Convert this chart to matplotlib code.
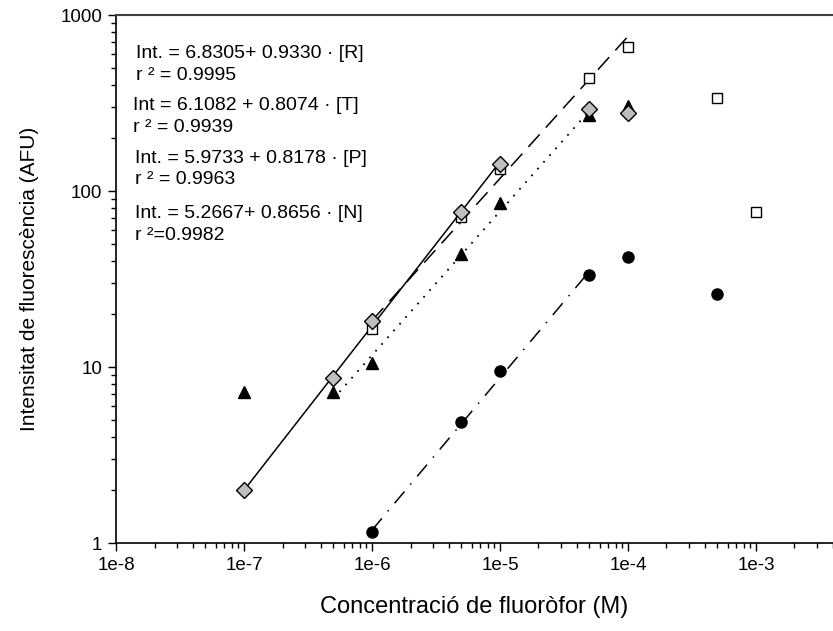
import numpy as np
import matplotlib
matplotlib.use("Agg")
import matplotlib.pyplot as plt
from matplotlib.ticker import FixedLocator, FixedFormatter, LogLocator, NullFormatter

plt.rcParams['font.family'] = ['Liberation Sans', 'DejaVu Sans']

# concentracions (M) i intensitats mesurades (AFU)
conc_R = [1e-7, 5e-7, 1e-6, 5e-6, 1e-5, 5e-5, 1e-4]
int_R = [2.0, 8.7, 18.2, 76, 142, 291, 276]

conc_T = [1e-6, 5e-6, 1e-5, 5e-5, 1e-4, 5e-4, 1e-3]
int_T = [16.4, 71, 134, 440, 660, 338, 76]

conc_P = [1e-7, 5e-7, 1e-6, 5e-6, 1e-5, 5e-5, 1e-4]
int_P = [7.2, 7.2, 10.6, 44, 86, 271, 304]

conc_N = [1e-6, 5e-6, 1e-5, 5e-5, 1e-4, 5e-4]
int_N = [1.15, 4.9, 9.5, 33.4, 42.3, 26]

# rectes de calibratge: log(Int) = a + b*log([C]), interval lineal
fit_R = (6.8305, 0.9330, 1e-7, 1e-5)
fit_T = (6.1082, 0.8074, 1e-6, 1e-4)
fit_P = (5.9733, 0.8178, 5e-7, 5e-5)
fit_N = (5.2667, 0.8656, 1e-6, 5e-5)

x_ticks = [1e-8, 1e-7, 1e-6, 1e-5, 1e-4, 1e-3]
x_tick_labels = ["1e-8", "1e-7", "1e-6", "1e-5", "1e-4", "1e-3"]
y_ticks = [1, 10, 100, 1000]
y_tick_labels = ["1", "10", "100", "1000"]


def fit_line(a, b, c0, c1):
    c = np.array([c0, c1])
    return c, 10 ** (a + b * np.log10(c))


fig = plt.figure(figsize=(8.33, 6.31), dpi=100)
ax = fig.add_axes([116 / 833, 1 - 543 / 631, 1 - 116 / 833, (543 - 15) / 631])
ax.set_xscale('log')
ax.set_yscale('log')

x, y = fit_line(*fit_R)
ax.plot(x, y, color='black', lw=1.1, ls='-')
x, y = fit_line(*fit_T)
ax.plot(x, y, color='black', lw=1.1, ls=(0, (11, 6)))
x, y = fit_line(*fit_P)
ax.plot(x, y, color='black', lw=1.3, ls=(0, (1, 4)))
x, y = fit_line(*fit_N)
ax.plot(x, y, color='black', lw=1.1, ls=(0, (10, 6, 1, 6)))

ax.plot(conc_T, int_T, ls='none', marker='s', ms=7.2, mfc='white', mec='black', mew=1.0)
ax.plot(conc_P, int_P, ls='none', marker='^', ms=8.5, mfc='black', mec='black')
ax.plot(conc_N, int_N, ls='none', marker='o', ms=8, mfc='black', mec='black')
ax.plot(conc_R, int_R, ls='none', marker='D', ms=8, mfc='#bebebe', mec='black', mew=1.0)

ax.set_xlim(1e-8, 4.0e-3)
ax.set_ylim(1, 1000)

ax.xaxis.set_major_locator(FixedLocator(x_ticks))
ax.xaxis.set_major_formatter(FixedFormatter(x_tick_labels))
ax.xaxis.set_minor_locator(LogLocator(base=10, subs=np.arange(2, 10)))
ax.xaxis.set_minor_formatter(NullFormatter())
ax.yaxis.set_major_locator(FixedLocator(y_ticks))
ax.yaxis.set_major_formatter(FixedFormatter(y_tick_labels))
ax.yaxis.set_minor_locator(LogLocator(base=10, subs=np.arange(2, 10)))
ax.yaxis.set_minor_formatter(NullFormatter())

ax.tick_params(which='major', direction='out', length=6, width=1, labelsize=13.5, pad=4)
ax.tick_params(which='minor', direction='out', length=3.5, width=1)

ax.spines['right'].set_visible(False)
ax.spines['top'].set_color('#404040')
ax.spines['top'].set_linewidth(1.5)
for side in ('left', 'bottom'):
    ax.spines[side].set_linewidth(1.2)

ax.set_xlabel("Concentració de fluoròfor (M)", fontsize=17, va='center')
ax.set_ylabel("Intensitat de fluorescència (AFU)", fontsize=15, va='center')
ax.xaxis.set_label_coords(0.5, (543 - 607) / 528)
ax.yaxis.set_label_coords((30 - 116) / 717, 0.5)

# equacions de les rectes
eqs = [
    (136, 53, "Int. = 6.8305+ 0.9330 · [R]"),
    (136, 76, "r ² = 0.9995"),
    (133, 105, "Int = 6.1082 + 0.8074 · [T]"),
    (133, 127, "r ² = 0.9939"),
    (135, 159, "Int. = 5.9733 + 0.8178 · [P]"),
    (135, 180, "r ² = 0.9963"),
    (135, 214, "Int. = 5.2667+ 0.8656 · [N]"),
    (135, 235, "r ²=0.9982"),
]
for px, py, txt in eqs:
    fig.text(px / 833, 1 - py / 631, txt, fontsize=14, ha='left', va='center')

fig.savefig("out.png", dpi=100)
